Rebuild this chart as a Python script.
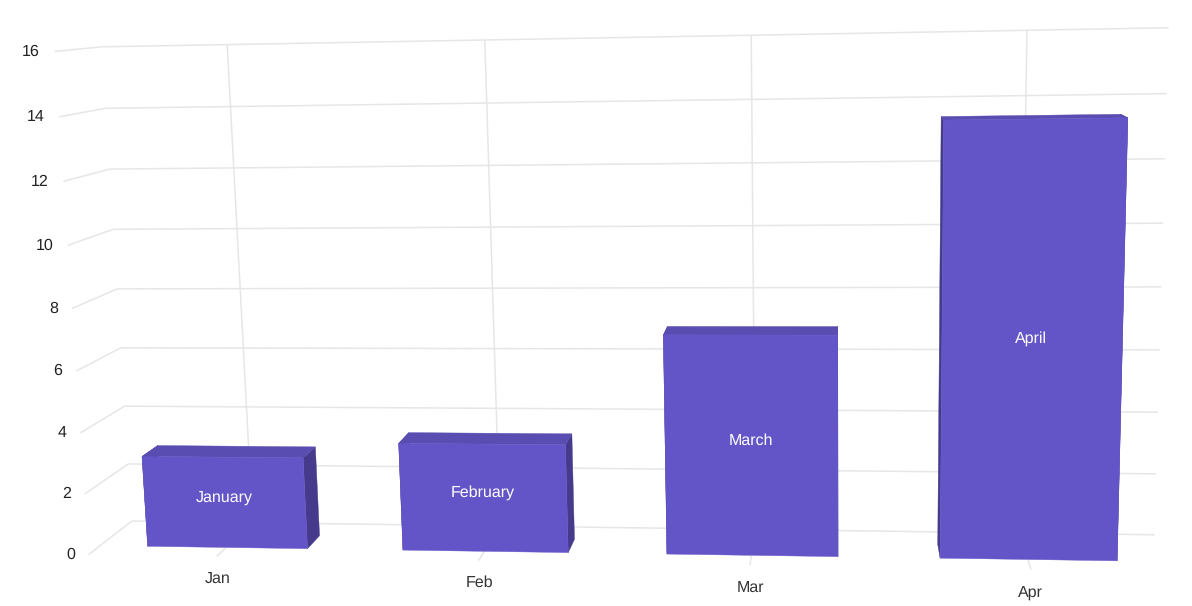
import numpy as np, matplotlib
matplotlib.use('Agg')
import matplotlib.pyplot as plt, seaborn as sns
from mpl_toolkits.mplot3d.art3d import Poly3DCollection, Line3DCollection

categories = ['Jan', 'Feb', 'Mar', 'Apr']
names = ['January', 'February', 'March', 'April']
values = [3, 3.5, 7, 13.5]
y_ticks = [0, 2, 4, 6, 8, 10, 12, 14, 16]

sns.set_theme(style='white')
plt.rcParams['font.family'] = ['Liberation Sans', 'DejaVu Sans']
plt.rcParams['text.hinting'] = 'no_hinting'
plt.rcParams['text.hinting_factor'] = 1

# Perspective camera of the 3D scene: (category, depth, value) -> picture pixels
CAM = np.array([[2.54074e+02, 5.16576e+01, -2.30244e+00, 2.16505e+02],
                [-5.36509e+00, -1.58898e+00, -3.18430e+01, 5.56482e+02],
                [-1.68801e-02, 6.15772e-02, -2.71582e-03, 1.0]])
W, H = 1192, 606

fig = plt.figure(figsize=(W / 100, H / 100), dpi=100)
ax = fig.add_axes([0, 0, 1, 1], projection='3d', computed_zorder=False)
ax.set_axis_off()
ax.set_xticks([])
ax.set_yticks([])
ax.set_zticks([])


def camera_projection():
    inv = ax.transData.inverted()
    (x0, y0), (x1, y1) = inv.transform([(0, H), (W, 0)])
    a = (x1 - x0) / W
    c = (y1 - y0) / H
    return np.vstack([a * CAM[0] + x0 * CAM[2], c * CAM[1] + y0 * CAM[2],
                      CAM[2] - np.array([0, 0, 0, 1.0]), CAM[2]])


ax.get_proj = camera_projection


def scene_text(x, y, z, s, **kw):
    u, v, w = CAM @ np.array([x, y, z, 1.0])
    fig.text(u / w / W, 1 - v / w / H, s, va='center', fontsize=11.2, **kw)


half_width, depth_front, depth_back = .315, .27, .65
x_left, x_right = -.5, len(categories) - .5
y_top = y_ticks[-1]
GRID = '#e6e6e9'
FRONT, TOP, SIDE = '#6355c7', '#5a4db2', '#463a8d'

segments = []
for z in y_ticks:
    segments.append([(x_left, 0, z), (x_left, 1, z)])
    segments.append([(x_left, 1, z), (x_right, 1, z)])
    scene_text(x_left - .055, 0, z, str(z), ha='right', color='#222222')
for i, c in enumerate(categories):
    segments.append([(i, 1, 0), (i, 1, y_top)])
    segments.append([(i, 0, 0), (i, depth_front, 0)])
    scene_text(i, 0, -.73, c, ha='center', color='#333333')
grid = Line3DCollection(segments, colors=GRID, linewidths=1.1, zorder=1)
ax.add_collection3d(grid)
grid.set_clip_on(False)

for i, v in enumerate(values):
    l, r = i - half_width, i + half_width
    d0, d1 = depth_front, depth_back
    faces = [([(l, d0, 0), (l, d1, 0), (l, d1, v), (l, d0, v)], SIDE, 2),
             ([(r, d0, 0), (r, d1, 0), (r, d1, v), (r, d0, v)], SIDE, 3),
             ([(l, d0, v), (r, d0, v), (r, d1, v), (l, d1, v)], TOP, 4),
             ([(l, d0, 0), (r, d0, 0), (r, d0, v), (l, d0, v)], FRONT, 5)]
    for face, col, zo in faces:
        pc = Poly3DCollection([face], facecolor=col, edgecolor=col, linewidth=.3, zorder=zo)
        ax.add_collection3d(pc)
        pc.set_clip_on(False)
    scene_text(i, d0, v / 2 + .15, names[i], ha='center', color='white')

fig.savefig('out.png', dpi=100)
